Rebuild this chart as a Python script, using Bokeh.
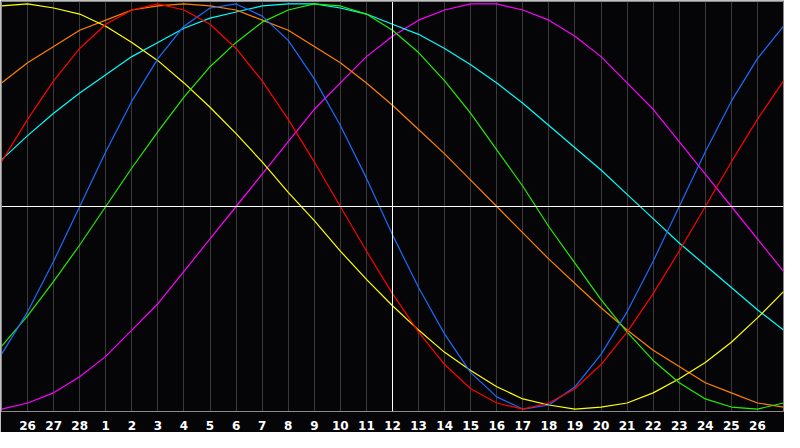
from bokeh.plotting import figure
from bokeh.models import Range1d, FixedTicker, Span, ColumnDataSource
from bokeh.embed import file_html
from bokeh.resources import INLINE

# day labels for each column (index 0..30)
days = [25, 26, 27, 28] + list(range(1, 28))
today = 12

# cycle values read per day (index 0..30)
red = [0.22, 0.43, 0.62, 0.78, 0.90, 0.97, 1.00, 0.97, 0.90, 0.78, 0.62, 0.43, 0.22, 0.00, -0.22, -0.43,
       -0.62, -0.78, -0.90, -0.97, -1.00, -0.97, -0.90, -0.78, -0.62, -0.43, -0.22, 0.00, 0.22, 0.43, 0.62]
blue = [-0.73, -0.52, -0.27, 0.00, 0.27, 0.52, 0.73, 0.89, 0.98, 1.00, 0.94, 0.82, 0.63, 0.40, 0.14, -0.14,
        -0.40, -0.63, -0.82, -0.94, -1.00, -0.98, -0.89, -0.73, -0.52, -0.27, 0.00, 0.27, 0.52, 0.73, 0.89]
green = [-0.69, -0.54, -0.37, -0.19, 0.00, 0.19, 0.37, 0.54, 0.69, 0.81, 0.91, 0.97, 1.00, 0.99, 0.95, 0.87,
         0.76, 0.62, 0.46, 0.28, 0.10, -0.10, -0.28, -0.46, -0.62, -0.76, -0.87, -0.95, -0.99, -1.00, -0.97]
magenta = [-1.00, -0.97, -0.92, -0.84, -0.74, -0.61, -0.48, -0.32, -0.16, 0.00, 0.16, 0.32, 0.48, 0.61, 0.74, 0.84,
           0.92, 0.97, 1.00, 1.00, 0.97, 0.92, 0.84, 0.74, 0.61, 0.48, 0.32, 0.16, 0.00, -0.16, -0.32]
cyan = [0.23, 0.35, 0.46, 0.56, 0.65, 0.74, 0.81, 0.88, 0.93, 0.96, 0.99, 1.00, 1.00, 0.98, 0.95, 0.90,
        0.85, 0.78, 0.70, 0.61, 0.51, 0.40, 0.29, 0.18, 0.06, -0.06, -0.18, -0.29, -0.40, -0.51, -0.61]
orange = [0.61, 0.71, 0.79, 0.87, 0.92, 0.97, 0.99, 1.00, 0.99, 0.97, 0.92, 0.87, 0.79, 0.71, 0.61, 0.50,
          0.38, 0.26, 0.13, 0.00, -0.13, -0.26, -0.38, -0.50, -0.61, -0.71, -0.79, -0.87, -0.92, -0.97, -0.99]
yellow = [0.99, 1.00, 0.98, 0.95, 0.89, 0.81, 0.72, 0.61, 0.49, 0.36, 0.22, 0.07, -0.07, -0.22, -0.36, -0.49,
          -0.61, -0.72, -0.81, -0.89, -0.95, -0.98, -1.00, -0.99, -0.97, -0.92, -0.85, -0.77, -0.67, -0.55, -0.42]

idx = list(range(len(days)))
src = ColumnDataSource(dict(x=idx, red=red, blue=blue, green=green, magenta=magenta,
                            cyan=cyan, orange=orange, yellow=yellow))

BG = "#050508"
p = figure(width=784, height=432, output_backend="svg", toolbar_location=None,
           x_range=Range1d(0, len(days) - 1), y_range=Range1d(-1.012, 1.012),
           y_axis_location=None, min_border_left=1, min_border_right=1, min_border_top=1,
           min_border_bottom=20)
p.background_fill_color = BG
p.border_fill_color = BG
p.outline_line_color = "#8a8a8a"
p.outline_line_width = 1

p.ygrid.visible = False
p.xgrid.grid_line_color = "#3a3a3a"
p.xgrid.grid_line_width = 1

ticks = idx[1:-1]
p.xaxis.ticker = FixedTicker(ticks=ticks)
p.xaxis.major_label_overrides = {i: str(days[i]) for i in ticks}
p.xaxis.axis_line_color = "#8a8a8a"
p.xaxis.major_tick_line_color = None
p.xaxis.minor_tick_line_color = None
p.xaxis.major_label_text_color = "white"
p.xaxis.major_label_text_font = "DejaVu Sans"
p.xaxis.major_label_text_font_style = "bold"
p.xaxis.major_label_text_font_size = "12px"
p.xaxis.major_label_standoff = 3

p.add_layout(Span(location=days.index(today, 4), dimension="height", line_color="white", line_width=1))
p.add_layout(Span(location=0, dimension="width", line_color="white", line_width=1))

for col, color in [("magenta", "#ff00ff"), ("cyan", "#00ffff"), ("orange", "#ff8000"),
                   ("yellow", "#ffff00"), ("green", "#22ee00"), ("blue", "#1a6cff"), ("red", "#ff0000")]:
    p.line("x", col, source=src, line_color=color, line_width=1.2)

open("out.html", "w").write(file_html(p, INLINE))
